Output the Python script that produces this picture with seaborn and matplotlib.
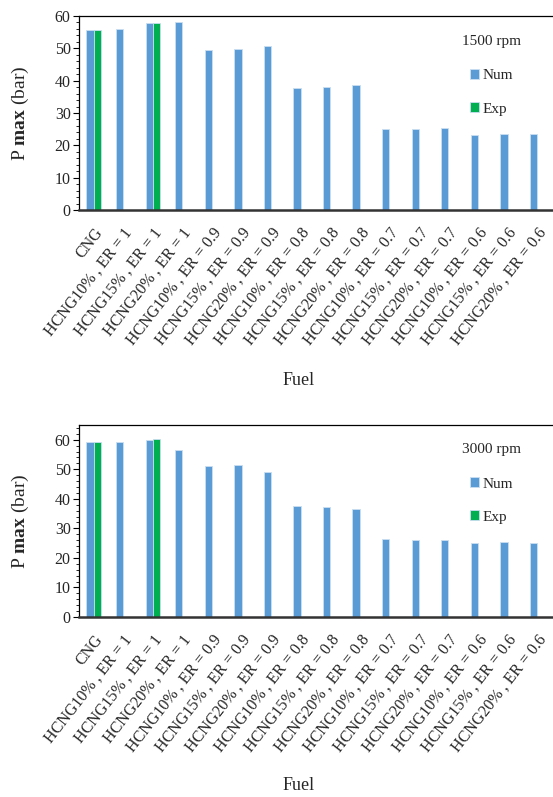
import matplotlib
matplotlib.use("Agg")
import matplotlib.pyplot as plt
import seaborn as sns
import pandas as pd
from matplotlib.ticker import MultipleLocator

categories = ["CNG",
              "HCNG10% , ER = 1", "HCNG15% , ER = 1", "HCNG20% , ER = 1",
              "HCNG10% , ER = 0.9", "HCNG15% , ER = 0.9", "HCNG20% , ER = 0.9",
              "HCNG10% , ER = 0.8", "HCNG15% , ER = 0.8", "HCNG20% , ER = 0.8",
              "HCNG10% , ER = 0.7", "HCNG15% , ER = 0.7", "HCNG20% , ER = 0.7",
              "HCNG10% , ER = 0.6", "HCNG15% , ER = 0.6", "HCNG20% , ER = 0.6"]

num_1500 = [55.7, 56.0, 57.7, 58.2, 49.5, 49.9, 50.8, 37.7, 38.0, 38.6,
            25.0, 25.1, 25.3, 23.3, 23.5, 23.4]
num_3000 = [59.1, 59.4, 59.9, 56.4, 51.2, 51.5, 49.0, 37.5, 37.1, 36.4,
            26.4, 25.9, 26.1, 25.0, 25.4, 25.2]

exp_categories = ["CNG", "HCNG15% , ER = 1"]
exp_1500 = [55.8, 57.9]
exp_3000 = [59.3, 60.1]

series_names = ["Num", "Exp"]
colors = {"Num": "#5B9BD5", "Exp": "#00B050"}
panel_titles = ["1500 rpm", "3000 rpm"]

sns.set_style("ticks")
plt.rcParams["font.family"] = ["Liberation Serif", "DejaVu Serif"]
plt.rcParams["mathtext.fontset"] = "custom"
plt.rcParams["mathtext.rm"] = "Liberation Serif"
plt.rcParams["mathtext.bf"] = "Liberation Serif:bold"


def make_df(num, exp):
    rows = [(c, v, "Num") for c, v in zip(categories, num)]
    rows += [(c, v, "Exp") for c, v in zip(exp_categories, exp)]
    return pd.DataFrame(rows, columns=["Fuel", "P", "Type"])


fig = plt.figure(figsize=(5.53, 7.97), dpi=100)
ax1 = fig.add_axes([79/553, 1-210/797, 474/553 - 0.002, 194/797])
ax2 = fig.add_axes([79/553, 1-617/797, 474/553 - 0.002, 192/797])

panels = [(ax1, make_df(num_1500, exp_1500), 60, panel_titles[0], 0.90),
          (ax2, make_df(num_3000, exp_3000), 65, panel_titles[1], 0.904)]

for ax, df, ymax, title, ty in panels:
    sns.barplot(data=df, x="Fuel", y="P", hue="Type", order=categories,
                hue_order=series_names, palette=colors, width=0.5,
                saturation=1, edgecolor="#c9def2", linewidth=0.6, ax=ax)
    ax.set_ylim(0, ymax)
    ax.set_xlim(-0.5, len(categories) - 0.5)
    ax.set_yticks(range(0, 61, 10))
    ax.yaxis.set_minor_locator(MultipleLocator(2))
    ax.tick_params(axis="y", which="major", direction="out", length=4,
                   width=0.8, labelsize=11.5, pad=2, color="black")
    ax.tick_params(axis="y", which="minor", direction="out", length=2.5,
                   width=0.6, color="black")
    ax.tick_params(axis="x", length=0, labelsize=11.5, pad=11)
    for lab in ax.get_xticklabels():
        lab.set_rotation(52)
        lab.set_ha("right")
        lab.set_va("top")
        lab.set_rotation_mode("anchor")
    ax.spines["right"].set_visible(False)
    ax.spines["top"].set_visible(True)
    ax.spines["top"].set_linewidth(0.9)
    ax.spines["top"].set_color("black")
    ax.spines["left"].set_linewidth(0.9)
    ax.spines["left"].set_color("black")
    ax.spines["bottom"].set_linewidth(1.8)
    ax.spines["bottom"].set_color("#333333")
    ax.set_xlabel("Fuel", fontsize=13)
    ax.xaxis.set_label_coords(0.464, -0.835)
    ax.set_ylabel(r"P $\mathbf{max}$ (bar)", fontsize=14)
    ax.yaxis.set_label_coords(-0.102, 0.5)
    handles, labels = ax.get_legend_handles_labels()
    leg = ax.legend(handles, labels, title=title, loc="upper left",
                    bbox_to_anchor=(0.81, ty), frameon=False, fontsize=11,
                    title_fontsize=11, handlelength=0.55, handleheight=0.6,
                    handletextpad=0.25, labelspacing=1.3, borderpad=0,
                    borderaxespad=0)
    leg._legend_box.sep = 15

fig.savefig("out.png", dpi=100)
